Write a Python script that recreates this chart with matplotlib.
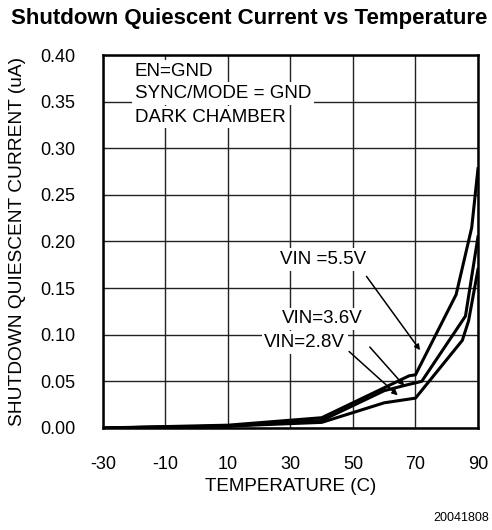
import matplotlib.pyplot as plt
import numpy as np

plt.rcParams['font.family'] = ['Liberation Sans', 'DejaVu Sans']

# temperature (C) and shutdown current (uA) per supply voltage
temp_55 = [-30, 10, 40, 68, 70, 83, 88, 90]
curr_55 = [0.000, 0.003, 0.011, 0.056, 0.057, 0.143, 0.215, 0.278]

temp_36 = [-30, 10, 40, 60, 67, 72, 86, 90]
curr_36 = [0.000, 0.002, 0.008, 0.040, 0.046, 0.050, 0.120, 0.205]

temp_28 = [-30, 10, 40, 60, 70, 85, 87, 90]
curr_28 = [0.000, 0.002, 0.006, 0.027, 0.032, 0.094, 0.115, 0.170]

x_ticks = [-30, -10, 10, 30, 50, 70, 90]
y_ticks = [0.00, 0.05, 0.10, 0.15, 0.20, 0.25, 0.30, 0.35, 0.40]

fig = plt.figure(figsize=(4.92, 5.30), dpi=100)
ax = fig.add_axes([0.2093, 0.1925, 0.7622, 0.7037])

ax.plot(temp_55, curr_55, color='black', lw=2.2, zorder=3)
ax.plot(temp_36, curr_36, color='black', lw=2.2, zorder=3)
ax.plot(temp_28, curr_28, color='black', lw=2.2, zorder=3)

ax.set_xlim(-30, 90)
ax.set_ylim(0, 0.40)
ax.set_xticks(x_ticks)
ax.set_yticks(y_ticks)
ax.set_xticklabels([str(t) for t in x_ticks])
ax.set_yticklabels(['%.2f' % v for v in y_ticks])
ax.tick_params(length=0, labelsize=13)
ax.tick_params(axis='x', pad=20)
ax.tick_params(axis='y', pad=20)
ax.grid(True, color='#222222', lw=1.0)
ax.set_axisbelow(True)
for s in ax.spines.values():
    s.set_linewidth(1.8)

ax.set_xlabel('TEMPERATURE (C)', fontsize=13.5, va='center')
ax.xaxis.set_label_coords(0.5, -0.158)
ax.set_ylabel('SHUTDOWN QUIESCENT CURRENT (uA)', fontsize=13.8, va='center')
ax.yaxis.set_label_coords(-0.229, 0.5)

box = dict(facecolor='white', edgecolor='none', pad=2)
ax.text(-19.8, 0.382, 'EN=GND', fontsize=13.5, va='center', bbox=box, zorder=2)
ax.text(-19.8, 0.359, 'SYNC/MODE = GND', fontsize=13.5, va='center', bbox=box, zorder=2)
ax.text(-19.8, 0.3335, 'DARK CHAMBER', fontsize=13.5, va='center', bbox=box, zorder=2)

arrow = dict(arrowstyle='-|>', color='black', lw=1.1, mutation_scale=8)
ax.text(40.4, 0.181, 'VIN =5.5V', fontsize=13.5, ha='center', va='center', bbox=box, zorder=2)
ax.annotate('', xy=(72, 0.081), xytext=(53.8, 0.165), arrowprops=arrow, zorder=4)
ax.text(40.2, 0.117, 'VIN=3.6V', fontsize=13.5, ha='center', va='center', bbox=box, zorder=2)
ax.annotate('', xy=(67, 0.043), xytext=(54.8, 0.089), arrowprops=arrow, zorder=4)
ax.text(34.6, 0.0917, 'VIN=2.8V', fontsize=13.5, ha='center', va='center', bbox=box, zorder=2)
ax.annotate('', xy=(65, 0.033), xytext=(48.1, 0.084), arrowprops=arrow, zorder=4)

fig.text(0.506, 0.966, 'Shutdown Quiescent Current vs Temperature', ha='center', va='center',
         fontsize=16, fontweight='bold')
fig.text(0.994, 0.0226, '20041808', ha='right', va='center', fontsize=9)

fig.savefig('out.png', dpi=100)
